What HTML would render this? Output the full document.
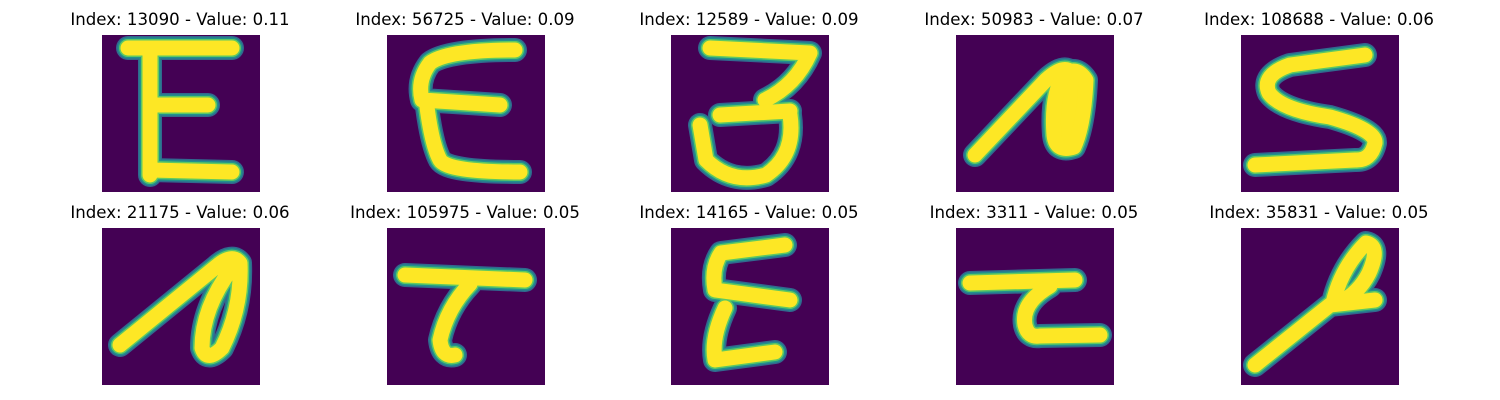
<!DOCTYPE html>
<html><head><meta charset="utf-8">
<style>
html,body{margin:0;padding:0;background:#fff;}
#wrap{position:relative;width:1500px;height:400px;overflow:hidden;}
.title{position:absolute;font-family:"DejaVu Sans","Liberation Sans",sans-serif;font-size:16.6px;color:#000;white-space:nowrap;transform:translateX(-50%);}
svg.img{position:absolute;}
</style></head>
<body>
<div id="wrap"></div>
<script>
const indices=[13090,56725,12589,50983,108688,21175,105975,14165,3311,35831];
const values=["0.11","0.09","0.09","0.07","0.06","0.06","0.05","0.05","0.05","0.05"];
const colX=[102,387,671,956,1241];
const rowY=[35,228];
const strokes=[
 ["M26,13 L130,13","M48,13 L48,140","M48,70 L106,70","M48,135 L130,137"],
 ["M128,15 Q60,15 43,28 Q30,45 35,65 L113,70","M40,72 Q45,110 53,125 Q60,137 133,137"],
 ["M39,13 L139,18 Q125,50 94,65","M49,80 L119,76","M119,80 Q125,120 95,140 Q60,150 35,125 L29,90"],
 ["M19,120 L90,45 Q104,32 112,35","M108,40 Q120,30 130,45 Q128,90 118,112 Q100,118 98,100 Q95,60 108,40 Z"],
 ["M124,20 L49,30 Q20,40 28,58 Q40,75 89,82 Q135,95 134,108 Q130,126 114,125 L14,130"],
 ["M18,117 L115,38 Q130,25 138,35 Q140,80 120,120 Q105,135 100,120 Q100,80 130,40"],
 ["M18,47 L138,52","M83,56 Q60,80 53,112 Q55,130 68,127"],
 ["M114,17 L50,25 Q40,40 44,62 L119,72","M54,80 Q40,110 44,132 L104,124"],
 ["M14,55 L119,52","M94,58 Q65,75 69,97 Q72,110 84,108 L144,107"],
 ["M14,137 L89,77 L134,72","M92,75 Q100,40 125,15 Q140,18 128,45 Q118,65 98,75"]
];
const wrap=document.getElementById('wrap');
const NS="http://www.w3.org/2000/svg";
for(let i=0;i<10;i++){
  const r=Math.floor(i/5),c=i%5;
  const x=colX[c],y=rowY[r];
  const t=document.createElement('div');
  t.className='title';
  
  
  t.style.left=(x+78)+'px';t.style.top=(y-25)+'px';
  t.textContent='Index: '+indices[i]+' - Value: '+values[i];
  wrap.appendChild(t);
  const s=document.createElementNS(NS,'svg');
  s.setAttribute('class','img');
  
  
  s.setAttribute('width','158');s.setAttribute('height','157');
  s.setAttribute('viewBox','0 0 158 157');
  s.style.left=x+'px';s.style.top=y+'px';
  const bg=document.createElementNS(NS,'rect');
  bg.setAttribute('width','158');bg.setAttribute('height','157');bg.setAttribute('fill','#440154');
  s.appendChild(bg);
  const layers=[["#31688e",24],["#21918c",21],["#5ec962",18],["#fde725",15]];
  layers.forEach(([col,w])=>{
    strokes[i].forEach(d=>{
      const p=document.createElementNS(NS,'path');
      p.setAttribute('d',d);p.setAttribute('fill',d.endsWith('Z')?col:'none');
      p.setAttribute('stroke',col);p.setAttribute('stroke-width',w);
      p.setAttribute('stroke-linecap','round');p.setAttribute('stroke-linejoin','round');
      s.appendChild(p);
    });
  });
  wrap.appendChild(s);
}
</script>
</body></html>
